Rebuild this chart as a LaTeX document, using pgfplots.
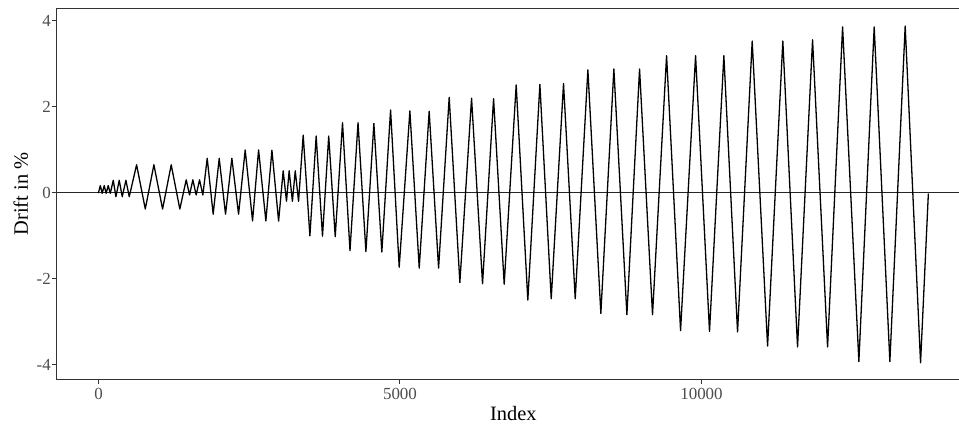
\documentclass[border=0pt]{standalone}
\usepackage{pgfplots}
\pgfplotsset{compat=1.18}
\usepackage{fontspec}
\setmainfont{Liberation Serif}
\definecolor{gray30}{HTML}{4D4D4D}
\definecolor{gray20}{HTML}{333333}
\begin{document}
\begin{tikzpicture}
\begin{axis}[name=ax,
  scale only axis, width=912.7bp, height=370bp,
  xmin=-688, xmax=14448, ymin=-4.336, ymax=4.276,
  scaled x ticks=false, scaled y ticks=false,
  xtick={0,5000,10000}, xticklabels={0,5000,10000},
  ytick={-4,-2,0,2,4}, yticklabels={-4,-2,0,2,4},
  xtick pos=bottom, ytick pos=left,
  tick align=outside, major tick length=5bp,
  tick style={gray20, line width=1bp},
  axis line style={gray20, line width=1bp},
  every tick label/.append style={font=\fontsize{17}{20}\selectfont, text=gray30},
  xticklabel style={anchor=base, yshift=-15bp},
  yticklabel style={anchor=east, inner sep=0pt, xshift=-1bp},
  xlabel={Index}, ylabel={Drift in \%},
  label style={font=\fontsize{20.5}{24}\selectfont},
  xlabel style={at={(axis description cs:0.5,-0.1135)}, anchor=base},
  ylabel style={at={(axis description cs:-0.0318,0.5)}, anchor=base},
  clip=true,
]
\addplot[black!85, line width=1bp] coordinates {(-1000,0) (15000,0)};
\addplot[black, line width=1.3bp, line join=round, line cap=round] coordinates {
(0,0) (30,0.165) (62,-0.014) (95,0.165) (127,-0.014) (161,0.165) (196,-0.014)
(245,0.29) (289,-0.093) (344,0.29) (394,-0.093) (455,0.29) (510,-0.093)
(632,0.65) (776,-0.38) (919,0.65) (1063,-0.38) (1206,0.65) (1349,-0.38)
(1455,0.30) (1510,-0.053) (1565,0.30) (1620,-0.053) (1676,0.30) (1731,-0.053)
(1803,0.80) (1902,-0.50) (2002,0.80) (2107,-0.50) (2212,0.80) (2323,-0.50)
(2433,0.995) (2555,-0.657) (2655,0.995) (2776,-0.657) (2876,0.99) (2987,-0.66)
(3063,0.51) (3118,-0.20) (3162,0.51) (3216,-0.20) (3263,0.51) (3318,-0.20)
(3395,1.34) (3506,-1.003) (3610,1.32) (3715,-1.013) (3818,1.32) (3926,-1.023)
(4047,1.63) (4171,-1.35) (4304,1.63) (4435,-1.37) (4567,1.61) (4699,-1.38)
(4844,1.925) (4987,-1.735) (5164,1.905) (5319,-1.755) (5484,1.895) (5640,-1.755)
(5816,2.22) (5993,-2.09) (6187,2.20) (6369,-2.12) (6552,2.19) (6728,-2.13)
(6927,2.51) (7120,-2.50) (7320,2.52) (7508,-2.47) (7712,2.54) (7906,-2.47)
(8116,2.86) (8331,-2.81) (8547,2.88) (8763,-2.84) (8973,2.88) (9188,-2.84)
(9421,3.19) (9653,-3.21) (9902,3.19) (10133,-3.23) (10371,3.19) (10598,-3.24)
(10841,3.53) (11096,-3.57) (11349,3.53) (11593,-3.59) (11842,3.56) (12091,-3.59)
(12340,3.86) (12610,-3.93) (12864,3.86) (13124,-3.93) (13378,3.88) (13633,-3.96)
(13762,-0.03)
};
\end{axis}
\pgfresetboundingbox
\path ([shift={(-57bp,-45bp)}]ax.south west) rectangle ([shift={(902bp,9bp)}]ax.north west);
\end{tikzpicture}
\end{document}
